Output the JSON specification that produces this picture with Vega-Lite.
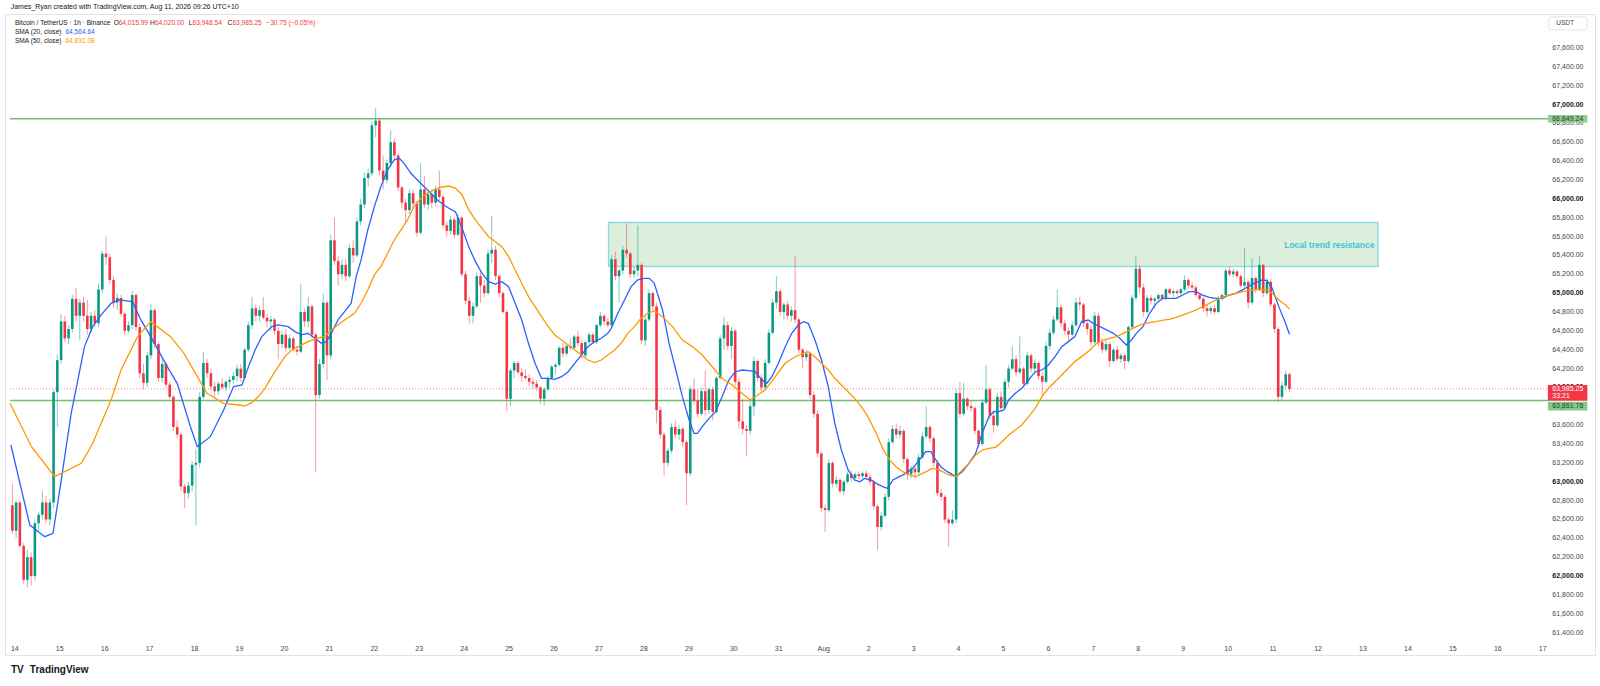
{
  "$schema": "https://vega.github.io/schema/vega-lite/v6.json",
  "description": "Bitcoin / TetherUS 1h candles with SMA 20 and SMA 50, support and resistance levels",
  "width": 1590,
  "height": 641,
  "autosize": {"type": "none"},
  "padding": {"left": 5, "top": 14, "right": 5, "bottom": 31},
  "background": "#ffffff",
  "config": {
    "view": {"stroke": "#e0e3eb", "strokeWidth": 1},
    "font": "Liberation Sans",
    "axis": {"labelOverlap": false, "labelSeparation": 0},
    "axisY": {"disable": true}
  },
  "data": {"values": [{}]},
  "datasets": {
    "candles": [
      {"t":-1,"o":62750,"h":62980,"l":62450,"c":62480},
      {"t":1,"o":62480,"h":62800,"l":62400,"c":62780},
      {"t":3,"o":62780,"h":62800,"l":62300,"c":62320},
      {"t":5,"o":62320,"h":62350,"l":61920,"c":61960},
      {"t":7,"o":61960,"h":62280,"l":61880,"c":62200},
      {"t":9,"o":62200,"h":62250,"l":61900,"c":62000},
      {"t":11,"o":62000,"h":62600,"l":61950,"c":62560},
      {"t":13,"o":62560,"h":62680,"l":62480,"c":62650},
      {"t":15,"o":62650,"h":62900,"l":62600,"c":62780},
      {"t":17,"o":62780,"h":62850,"l":62560,"c":62600},
      {"t":19,"o":62600,"h":62820,"l":62540,"c":62780},
      {"t":21,"o":62780,"h":63980,"l":62720,"c":63950},
      {"t":23,"o":63950,"h":64350,"l":63580,"c":64290},
      {"t":25,"o":64290,"h":64780,"l":64250,"c":64700},
      {"t":27,"o":64700,"h":64760,"l":64480,"c":64520},
      {"t":29,"o":64520,"h":64660,"l":64460,"c":64620},
      {"t":31,"o":64620,"h":64980,"l":64580,"c":64940},
      {"t":33,"o":64940,"h":65060,"l":64700,"c":64760},
      {"t":35,"o":64760,"h":64940,"l":64500,"c":64900},
      {"t":37,"o":64900,"h":64960,"l":64700,"c":64760},
      {"t":39,"o":64760,"h":64930,"l":64560,"c":64620},
      {"t":41,"o":64620,"h":64800,"l":64580,"c":64760},
      {"t":43,"o":64760,"h":64820,"l":64640,"c":64680},
      {"t":45,"o":64680,"h":65100,"l":64640,"c":65040},
      {"t":47,"o":65040,"h":65450,"l":65000,"c":65420},
      {"t":49,"o":65420,"h":65600,"l":65300,"c":65380},
      {"t":51,"o":65380,"h":65420,"l":65100,"c":65140},
      {"t":53,"o":65140,"h":65180,"l":64850,"c":64900},
      {"t":55,"o":64900,"h":65000,"l":64820,"c":64950},
      {"t":57,"o":64950,"h":64980,"l":64750,"c":64780},
      {"t":59,"o":64780,"h":64800,"l":64560,"c":64600},
      {"t":61,"o":64600,"h":64700,"l":64580,"c":64660},
      {"t":63,"o":64660,"h":65020,"l":64620,"c":64980},
      {"t":65,"o":64980,"h":65000,"l":64600,"c":64640},
      {"t":67,"o":64640,"h":64680,"l":64100,"c":64150},
      {"t":69,"o":64150,"h":64250,"l":63980,"c":64050},
      {"t":71,"o":64050,"h":64380,"l":64000,"c":64340},
      {"t":73,"o":64340,"h":64890,"l":64300,"c":64820},
      {"t":75,"o":64820,"h":64840,"l":64420,"c":64460},
      {"t":77,"o":64460,"h":64480,"l":64060,"c":64100},
      {"t":79,"o":64100,"h":64300,"l":64050,"c":64250},
      {"t":81,"o":64250,"h":64270,"l":64000,"c":64030},
      {"t":83,"o":64030,"h":64060,"l":63880,"c":63900},
      {"t":85,"o":63900,"h":63920,"l":63540,"c":63580},
      {"t":87,"o":63580,"h":63650,"l":63460,"c":63500},
      {"t":89,"o":63500,"h":63520,"l":62900,"c":62950},
      {"t":91,"o":62950,"h":62980,"l":62720,"c":62880},
      {"t":93,"o":62880,"h":63000,"l":62820,"c":62960},
      {"t":95,"o":62960,"h":63220,"l":62900,"c":63180},
      {"t":97,"o":63180,"h":63350,"l":62540,"c":63200},
      {"t":99,"o":63200,"h":63950,"l":63150,"c":63900},
      {"t":101,"o":63900,"h":64380,"l":63880,"c":64260},
      {"t":103,"o":64260,"h":64300,"l":64100,"c":64150},
      {"t":105,"o":64150,"h":64200,"l":63980,"c":64010},
      {"t":107,"o":64010,"h":64060,"l":63900,"c":63960},
      {"t":109,"o":63960,"h":64060,"l":63920,"c":64040},
      {"t":111,"o":64040,"h":64100,"l":63980,"c":64000},
      {"t":113,"o":64000,"h":64080,"l":63960,"c":64060},
      {"t":115,"o":64060,"h":64120,"l":64000,"c":64080},
      {"t":117,"o":64080,"h":64160,"l":64040,"c":64120},
      {"t":119,"o":64120,"h":64240,"l":64060,"c":64200},
      {"t":121,"o":64200,"h":64250,"l":64060,"c":64100},
      {"t":123,"o":64100,"h":64420,"l":64080,"c":64400},
      {"t":125,"o":64400,"h":64700,"l":64380,"c":64660},
      {"t":127,"o":64660,"h":64960,"l":64620,"c":64840},
      {"t":129,"o":64840,"h":64880,"l":64700,"c":64760},
      {"t":131,"o":64760,"h":64860,"l":64700,"c":64820},
      {"t":133,"o":64820,"h":64960,"l":64720,"c":64740},
      {"t":135,"o":64740,"h":64780,"l":64640,"c":64700},
      {"t":137,"o":64700,"h":64760,"l":64600,"c":64720},
      {"t":139,"o":64720,"h":64740,"l":64560,"c":64600},
      {"t":141,"o":64600,"h":64640,"l":64300,"c":64460},
      {"t":143,"o":64460,"h":64600,"l":64420,"c":64560},
      {"t":145,"o":64560,"h":64620,"l":64380,"c":64420},
      {"t":147,"o":64420,"h":64560,"l":64400,"c":64520},
      {"t":149,"o":64520,"h":64540,"l":64380,"c":64400},
      {"t":151,"o":64400,"h":64440,"l":64340,"c":64380},
      {"t":153,"o":64380,"h":65100,"l":64360,"c":64800},
      {"t":155,"o":64800,"h":64840,"l":64640,"c":64700},
      {"t":157,"o":64700,"h":64960,"l":64640,"c":64860},
      {"t":159,"o":64860,"h":64880,"l":64520,"c":64560},
      {"t":161,"o":64560,"h":64580,"l":63100,"c":63920},
      {"t":163,"o":63920,"h":64300,"l":63880,"c":64250},
      {"t":165,"o":64250,"h":65000,"l":64200,"c":64900},
      {"t":167,"o":64900,"h":64920,"l":64080,"c":64340},
      {"t":169,"o":64340,"h":65620,"l":64300,"c":65560},
      {"t":171,"o":65560,"h":65800,"l":65300,"c":65340},
      {"t":173,"o":65340,"h":65400,"l":65080,"c":65200},
      {"t":175,"o":65200,"h":65360,"l":65150,"c":65300},
      {"t":177,"o":65300,"h":65360,"l":65130,"c":65180},
      {"t":179,"o":65180,"h":65520,"l":65160,"c":65480},
      {"t":181,"o":65480,"h":65560,"l":65320,"c":65400},
      {"t":183,"o":65400,"h":65800,"l":65380,"c":65760},
      {"t":185,"o":65760,"h":66000,"l":65720,"c":65940},
      {"t":187,"o":65940,"h":66280,"l":65900,"c":66220},
      {"t":189,"o":66220,"h":66320,"l":66130,"c":66270},
      {"t":191,"o":66270,"h":66820,"l":66240,"c":66780},
      {"t":193,"o":66780,"h":66960,"l":66650,"c":66830},
      {"t":195,"o":66830,"h":66860,"l":66250,"c":66300},
      {"t":197,"o":66300,"h":66460,"l":66100,"c":66200},
      {"t":199,"o":66200,"h":66420,"l":66160,"c":66380},
      {"t":201,"o":66380,"h":66730,"l":66340,"c":66600},
      {"t":203,"o":66600,"h":66640,"l":66420,"c":66460},
      {"t":205,"o":66460,"h":66480,"l":66080,"c":66120},
      {"t":207,"o":66120,"h":66140,"l":65900,"c":65960},
      {"t":209,"o":65960,"h":66000,"l":65740,"c":65880},
      {"t":211,"o":65880,"h":66100,"l":65840,"c":66060},
      {"t":213,"o":66060,"h":66100,"l":65900,"c":65950},
      {"t":215,"o":65950,"h":65980,"l":65600,"c":65640},
      {"t":217,"o":65640,"h":66380,"l":65620,"c":66100},
      {"t":219,"o":66100,"h":66240,"l":65900,"c":65940},
      {"t":221,"o":65940,"h":66080,"l":65880,"c":66050},
      {"t":223,"o":66050,"h":66100,"l":65900,"c":65960},
      {"t":225,"o":65960,"h":66140,"l":65920,"c":66100},
      {"t":227,"o":66100,"h":66300,"l":65980,"c":66020},
      {"t":229,"o":66020,"h":66040,"l":65680,"c":65720},
      {"t":231,"o":65720,"h":65760,"l":65600,"c":65660},
      {"t":233,"o":65660,"h":65820,"l":65620,"c":65780},
      {"t":235,"o":65780,"h":65800,"l":65580,"c":65620},
      {"t":237,"o":65620,"h":65840,"l":65600,"c":65800},
      {"t":239,"o":65800,"h":65820,"l":65180,"c":65200},
      {"t":241,"o":65200,"h":65240,"l":64880,"c":64920},
      {"t":243,"o":64920,"h":64960,"l":64680,"c":64760},
      {"t":245,"o":64760,"h":64900,"l":64680,"c":64860},
      {"t":247,"o":64860,"h":65220,"l":64840,"c":65180},
      {"t":249,"o":65180,"h":65220,"l":64900,"c":65080},
      {"t":251,"o":65080,"h":65140,"l":64960,"c":65000},
      {"t":253,"o":65000,"h":65460,"l":64980,"c":65420},
      {"t":255,"o":65420,"h":65820,"l":65320,"c":65460},
      {"t":257,"o":65460,"h":65500,"l":65140,"c":65180},
      {"t":259,"o":65180,"h":65200,"l":64960,"c":65000},
      {"t":261,"o":65000,"h":65020,"l":64780,"c":64800},
      {"t":263,"o":64800,"h":64820,"l":63750,"c":63880},
      {"t":265,"o":63880,"h":64200,"l":63800,"c":64180},
      {"t":267,"o":64180,"h":64280,"l":64100,"c":64260},
      {"t":269,"o":64260,"h":64280,"l":64140,"c":64160},
      {"t":271,"o":64160,"h":64200,"l":64060,"c":64120},
      {"t":273,"o":64120,"h":64190,"l":64080,"c":64100},
      {"t":275,"o":64100,"h":64140,"l":64020,"c":64060},
      {"t":277,"o":64060,"h":64100,"l":63980,"c":64040},
      {"t":279,"o":64040,"h":64080,"l":63960,"c":64000},
      {"t":281,"o":64000,"h":64020,"l":63820,"c":63880},
      {"t":283,"o":63880,"h":64000,"l":63810,"c":63980},
      {"t":285,"o":63980,"h":64120,"l":63960,"c":64100},
      {"t":287,"o":64100,"h":64240,"l":64080,"c":64220},
      {"t":289,"o":64220,"h":64260,"l":64140,"c":64240},
      {"t":291,"o":64240,"h":64440,"l":64220,"c":64420},
      {"t":293,"o":64420,"h":64470,"l":64320,"c":64360},
      {"t":295,"o":64360,"h":64460,"l":64330,"c":64440},
      {"t":297,"o":64440,"h":64520,"l":64400,"c":64420},
      {"t":299,"o":64420,"h":64560,"l":64400,"c":64540},
      {"t":301,"o":64540,"h":64600,"l":64440,"c":64470},
      {"t":303,"o":64470,"h":64500,"l":64300,"c":64340},
      {"t":305,"o":64340,"h":64500,"l":64320,"c":64480},
      {"t":307,"o":64480,"h":64580,"l":64460,"c":64560},
      {"t":309,"o":64560,"h":64580,"l":64460,"c":64480},
      {"t":311,"o":64480,"h":64680,"l":64460,"c":64660},
      {"t":313,"o":64660,"h":64800,"l":64640,"c":64760},
      {"t":315,"o":64760,"h":64780,"l":64660,"c":64700},
      {"t":317,"o":64700,"h":64740,"l":64640,"c":64660},
      {"t":319,"o":64660,"h":65400,"l":64640,"c":65360},
      {"t":321,"o":65360,"h":65440,"l":65140,"c":65180},
      {"t":323,"o":65180,"h":65260,"l":64900,"c":65240},
      {"t":325,"o":65240,"h":65500,"l":65200,"c":65460},
      {"t":327,"o":65460,"h":65740,"l":65380,"c":65420},
      {"t":329,"o":65420,"h":65440,"l":65160,"c":65200},
      {"t":331,"o":65200,"h":65280,"l":65160,"c":65240},
      {"t":333,"o":65240,"h":65720,"l":65180,"c":65300},
      {"t":335,"o":65300,"h":65320,"l":64460,"c":64500},
      {"t":337,"o":64500,"h":64760,"l":64440,"c":64720},
      {"t":339,"o":64720,"h":65040,"l":64700,"c":65000},
      {"t":341,"o":65000,"h":65020,"l":64820,"c":64860},
      {"t":343,"o":64860,"h":64900,"l":63620,"c":63760},
      {"t":345,"o":63760,"h":63800,"l":63460,"c":63500},
      {"t":347,"o":63500,"h":63520,"l":63070,"c":63200},
      {"t":349,"o":63200,"h":63360,"l":63160,"c":63330},
      {"t":351,"o":63330,"h":63620,"l":63300,"c":63580},
      {"t":353,"o":63580,"h":63650,"l":63460,"c":63500},
      {"t":355,"o":63500,"h":63600,"l":63440,"c":63560},
      {"t":357,"o":63560,"h":63580,"l":63370,"c":63420},
      {"t":359,"o":63420,"h":63440,"l":62750,"c":63090},
      {"t":361,"o":63090,"h":64020,"l":63060,"c":63980},
      {"t":363,"o":63980,"h":64100,"l":63820,"c":63860},
      {"t":365,"o":63860,"h":63980,"l":63680,"c":63720},
      {"t":367,"o":63720,"h":64000,"l":63700,"c":63960},
      {"t":369,"o":63960,"h":64180,"l":63700,"c":63760},
      {"t":371,"o":63760,"h":64000,"l":63720,"c":63980},
      {"t":373,"o":63980,"h":64010,"l":63650,"c":63740},
      {"t":375,"o":63740,"h":64120,"l":63720,"c":64100},
      {"t":377,"o":64100,"h":64560,"l":64080,"c":64520},
      {"t":379,"o":64520,"h":64750,"l":64400,"c":64660},
      {"t":381,"o":64660,"h":64700,"l":64400,"c":64440},
      {"t":383,"o":64440,"h":64640,"l":64300,"c":64600},
      {"t":385,"o":64600,"h":64620,"l":64020,"c":64060},
      {"t":387,"o":64060,"h":64100,"l":63560,"c":63640},
      {"t":389,"o":63640,"h":63880,"l":63500,"c":63560},
      {"t":391,"o":63560,"h":63600,"l":63270,"c":63540},
      {"t":393,"o":63540,"h":63860,"l":63500,"c":63800},
      {"t":395,"o":63800,"h":64330,"l":63700,"c":64280},
      {"t":397,"o":64280,"h":64300,"l":64060,"c":64100},
      {"t":399,"o":64100,"h":64140,"l":63960,"c":64000},
      {"t":401,"o":64000,"h":64300,"l":63980,"c":64260},
      {"t":403,"o":64260,"h":64620,"l":64240,"c":64580},
      {"t":405,"o":64580,"h":64940,"l":64560,"c":64900},
      {"t":407,"o":64900,"h":65180,"l":64840,"c":65020},
      {"t":409,"o":65020,"h":65040,"l":64760,"c":64800},
      {"t":411,"o":64800,"h":64900,"l":64720,"c":64880},
      {"t":413,"o":64880,"h":64920,"l":64720,"c":64760},
      {"t":415,"o":64760,"h":64860,"l":64700,"c":64820},
      {"t":417,"o":64820,"h":65400,"l":64680,"c":64720},
      {"t":419,"o":64720,"h":64740,"l":64360,"c":64400},
      {"t":421,"o":64400,"h":64420,"l":64200,"c":64320},
      {"t":423,"o":64320,"h":64400,"l":64280,"c":64360},
      {"t":425,"o":64360,"h":64380,"l":63880,"c":63920},
      {"t":427,"o":63920,"h":63960,"l":63680,"c":63720},
      {"t":429,"o":63720,"h":63760,"l":63260,"c":63300},
      {"t":431,"o":63300,"h":63320,"l":62680,"c":62720},
      {"t":433,"o":62720,"h":62760,"l":62470,"c":62700},
      {"t":435,"o":62700,"h":63240,"l":62680,"c":63200},
      {"t":437,"o":63200,"h":63220,"l":62940,"c":62980},
      {"t":439,"o":62980,"h":63060,"l":62940,"c":63020},
      {"t":441,"o":63020,"h":63040,"l":62880,"c":62900},
      {"t":443,"o":62900,"h":63020,"l":62860,"c":63000},
      {"t":445,"o":63000,"h":63110,"l":62980,"c":63080},
      {"t":447,"o":63080,"h":63120,"l":63000,"c":63040},
      {"t":449,"o":63040,"h":63100,"l":63010,"c":63080},
      {"t":451,"o":63080,"h":63110,"l":63030,"c":63060},
      {"t":453,"o":63060,"h":63110,"l":63040,"c":63090},
      {"t":455,"o":63090,"h":63120,"l":63020,"c":63050},
      {"t":457,"o":63050,"h":63080,"l":62960,"c":63000},
      {"t":459,"o":63000,"h":63020,"l":62700,"c":62740},
      {"t":461,"o":62740,"h":62760,"l":62280,"c":62520},
      {"t":463,"o":62520,"h":62680,"l":62480,"c":62640},
      {"t":465,"o":62640,"h":62880,"l":62620,"c":62840},
      {"t":467,"o":62840,"h":63460,"l":62800,"c":63420},
      {"t":469,"o":63420,"h":63600,"l":63400,"c":63560},
      {"t":471,"o":63560,"h":63620,"l":63460,"c":63500},
      {"t":473,"o":63500,"h":63600,"l":63460,"c":63540},
      {"t":475,"o":63540,"h":63560,"l":63200,"c":63240},
      {"t":477,"o":63240,"h":63260,"l":63020,"c":63080},
      {"t":479,"o":63080,"h":63170,"l":63040,"c":63140},
      {"t":481,"o":63140,"h":63160,"l":63040,"c":63100},
      {"t":483,"o":63100,"h":63300,"l":63080,"c":63260},
      {"t":485,"o":63260,"h":63520,"l":63240,"c":63480},
      {"t":487,"o":63480,"h":63800,"l":63460,"c":63580},
      {"t":489,"o":63580,"h":63600,"l":63420,"c":63460},
      {"t":491,"o":63460,"h":63480,"l":63160,"c":63200},
      {"t":493,"o":63200,"h":63220,"l":62850,"c":62880},
      {"t":495,"o":62880,"h":62920,"l":62800,"c":62840},
      {"t":497,"o":62840,"h":62860,"l":62560,"c":62600},
      {"t":499,"o":62600,"h":62620,"l":62310,"c":62560},
      {"t":501,"o":62560,"h":62700,"l":62540,"c":62600},
      {"t":503,"o":62600,"h":63980,"l":62560,"c":63940},
      {"t":505,"o":63940,"h":64060,"l":63680,"c":63720},
      {"t":507,"o":63720,"h":64050,"l":63700,"c":63880},
      {"t":509,"o":63880,"h":63900,"l":63760,"c":63800},
      {"t":511,"o":63800,"h":63860,"l":63740,"c":63780},
      {"t":513,"o":63780,"h":63800,"l":63500,"c":63540},
      {"t":515,"o":63540,"h":63560,"l":63360,"c":63400},
      {"t":517,"o":63400,"h":63880,"l":63380,"c":63840},
      {"t":519,"o":63840,"h":64240,"l":63820,"c":63980},
      {"t":521,"o":63980,"h":64000,"l":63660,"c":63700},
      {"t":523,"o":63700,"h":63760,"l":63520,"c":63600},
      {"t":525,"o":63600,"h":63940,"l":63580,"c":63900},
      {"t":527,"o":63900,"h":63960,"l":63740,"c":63780},
      {"t":529,"o":63780,"h":64090,"l":63760,"c":64060},
      {"t":531,"o":64060,"h":64240,"l":64000,"c":64200},
      {"t":533,"o":64200,"h":64440,"l":64180,"c":64300},
      {"t":535,"o":64300,"h":64340,"l":64120,"c":64160},
      {"t":537,"o":64160,"h":64540,"l":64140,"c":64200},
      {"t":539,"o":64200,"h":64220,"l":64000,"c":64040},
      {"t":541,"o":64040,"h":64380,"l":64020,"c":64340},
      {"t":543,"o":64340,"h":64360,"l":64160,"c":64200},
      {"t":545,"o":64200,"h":64300,"l":64140,"c":64260},
      {"t":547,"o":64260,"h":64280,"l":64080,"c":64120},
      {"t":549,"o":64120,"h":64160,"l":63900,"c":64060},
      {"t":551,"o":64060,"h":64480,"l":64040,"c":64440},
      {"t":553,"o":64440,"h":64620,"l":64400,"c":64580},
      {"t":555,"o":64580,"h":64760,"l":64560,"c":64720},
      {"t":557,"o":64720,"h":65040,"l":64700,"c":64850},
      {"t":559,"o":64850,"h":64880,"l":64640,"c":64680},
      {"t":561,"o":64680,"h":64720,"l":64560,"c":64600},
      {"t":563,"o":64600,"h":64640,"l":64500,"c":64560},
      {"t":565,"o":64560,"h":64700,"l":64540,"c":64660},
      {"t":567,"o":64660,"h":64950,"l":64640,"c":64900},
      {"t":569,"o":64900,"h":64960,"l":64820,"c":64880},
      {"t":571,"o":64880,"h":64900,"l":64640,"c":64680},
      {"t":573,"o":64680,"h":64700,"l":64560,"c":64620},
      {"t":575,"o":64620,"h":64660,"l":64440,"c":64480},
      {"t":577,"o":64480,"h":64800,"l":64460,"c":64760},
      {"t":579,"o":64760,"h":64790,"l":64440,"c":64480},
      {"t":581,"o":64480,"h":64520,"l":64360,"c":64400},
      {"t":583,"o":64400,"h":64500,"l":64380,"c":64460},
      {"t":585,"o":64460,"h":64480,"l":64220,"c":64280},
      {"t":587,"o":64280,"h":64420,"l":64260,"c":64400},
      {"t":589,"o":64400,"h":64440,"l":64280,"c":64300},
      {"t":591,"o":64300,"h":64360,"l":64260,"c":64340},
      {"t":593,"o":64340,"h":64360,"l":64190,"c":64280},
      {"t":595,"o":64280,"h":64660,"l":64260,"c":64640},
      {"t":597,"o":64640,"h":64980,"l":64620,"c":64950},
      {"t":599,"o":64950,"h":65390,"l":64920,"c":65260},
      {"t":601,"o":65260,"h":65300,"l":65000,"c":65060},
      {"t":603,"o":65060,"h":65100,"l":64750,"c":64800},
      {"t":605,"o":64800,"h":64980,"l":64780,"c":64950},
      {"t":607,"o":64950,"h":64980,"l":64880,"c":64920},
      {"t":609,"o":64920,"h":64960,"l":64840,"c":64940},
      {"t":611,"o":64940,"h":65000,"l":64900,"c":64980},
      {"t":613,"o":64980,"h":65000,"l":64920,"c":64940},
      {"t":615,"o":64940,"h":65060,"l":64920,"c":65040},
      {"t":617,"o":65040,"h":65060,"l":64980,"c":65000},
      {"t":619,"o":65000,"h":65040,"l":64960,"c":65020},
      {"t":621,"o":65020,"h":65040,"l":64980,"c":65000},
      {"t":623,"o":65000,"h":65060,"l":64980,"c":65040},
      {"t":625,"o":65040,"h":65190,"l":65020,"c":65140},
      {"t":627,"o":65140,"h":65160,"l":65040,"c":65080},
      {"t":629,"o":65080,"h":65120,"l":65030,"c":65060},
      {"t":631,"o":65060,"h":65080,"l":64960,"c":64980},
      {"t":633,"o":64980,"h":65000,"l":64920,"c":64940},
      {"t":635,"o":64940,"h":64960,"l":64800,"c":64840},
      {"t":637,"o":64840,"h":64880,"l":64750,"c":64810},
      {"t":639,"o":64810,"h":64860,"l":64780,"c":64840},
      {"t":641,"o":64840,"h":64870,"l":64780,"c":64800},
      {"t":643,"o":64800,"h":64970,"l":64790,"c":64940},
      {"t":645,"o":64940,"h":65000,"l":64920,"c":64980},
      {"t":647,"o":64980,"h":65260,"l":64960,"c":65240},
      {"t":649,"o":65240,"h":65280,"l":65180,"c":65200},
      {"t":651,"o":65200,"h":65260,"l":65170,"c":65230},
      {"t":653,"o":65230,"h":65250,"l":65160,"c":65180},
      {"t":655,"o":65180,"h":65200,"l":65060,"c":65080},
      {"t":657,"o":65080,"h":65480,"l":65040,"c":65120},
      {"t":659,"o":65120,"h":65140,"l":64840,"c":64900},
      {"t":661,"o":64900,"h":65370,"l":64880,"c":65160},
      {"t":663,"o":65160,"h":65180,"l":65000,"c":65040},
      {"t":665,"o":65040,"h":65390,"l":65020,"c":65300},
      {"t":667,"o":65300,"h":65310,"l":64960,"c":65000},
      {"t":669,"o":65000,"h":65160,"l":64980,"c":65120},
      {"t":671,"o":65120,"h":65150,"l":64850,"c":64880},
      {"t":673,"o":64880,"h":64900,"l":64580,"c":64620},
      {"t":675,"o":64620,"h":64640,"l":63840,"c":63900},
      {"t":677,"o":63900,"h":64060,"l":63860,"c":64020},
      {"t":679,"o":64020,"h":64180,"l":63980,"c":64140},
      {"t":681,"o":64140,"h":64160,"l":63948,"c":63985}
    ],
    "sma20": [
      {"t":-1.8,"v":63390},{"t":8.3,"v":62541},{"t":16.3,"v":62418},{"t":20.7,"v":62453},{"t":25.1,"v":63019},
      {"t":30.4,"v":63726},{"t":37.5,"v":64433},{"t":41.9,"v":64645},{"t":46.4,"v":64769},{"t":51.7,"v":64892},
      {"t":56.1,"v":64928},{"t":63.2,"v":64910},{"t":67.6,"v":64716},{"t":72.9,"v":64539},{"t":81.7,"v":64221},
      {"t":87.0,"v":64044},{"t":94.1,"v":63584},{"t":97.7,"v":63372},{"t":104.7,"v":63478},{"t":111.8,"v":63761},
      {"t":117.1,"v":64009},{"t":121.6,"v":64027},{"t":125.1,"v":64221},{"t":128.6,"v":64398},{"t":132.2,"v":64539},
      {"t":137.5,"v":64645},{"t":141.0,"v":64663},{"t":146.3,"v":64645},{"t":149.9,"v":64592},{"t":153.4,"v":64557},
      {"t":156.9,"v":64574},{"t":160.5,"v":64522},{"t":164.0,"v":64468},{"t":166.7,"v":64486},{"t":169.3,"v":64574},
      {"t":172.9,"v":64716},{"t":176.4,"v":64804},{"t":179.9,"v":64893},{"t":182.6,"v":65175},{"t":185.2,"v":65352},
      {"t":188.8,"v":65670},{"t":192.3,"v":65918},{"t":195.8,"v":66130},{"t":199.4,"v":66307},{"t":202.9,"v":66413},
      {"t":205.6,"v":66430},{"t":208.2,"v":66377},{"t":211.8,"v":66271},{"t":215.3,"v":66200},{"t":218.8,"v":66130},
      {"t":222.4,"v":66059},{"t":225.9,"v":65988},{"t":229.5,"v":65935},{"t":232.1,"v":65900},{"t":235.6,"v":65864},
      {"t":239.2,"v":65687},{"t":242.7,"v":65493},{"t":246.3,"v":65334},{"t":249.8,"v":65210},{"t":253.3,"v":65122},
      {"t":256.9,"v":65097},{"t":260.4,"v":65122},{"t":264.0,"v":65069},{"t":267.5,"v":64892},{"t":271.0,"v":64715},
      {"t":274.6,"v":64468},{"t":278.1,"v":64256},{"t":281.6,"v":64097},{"t":285.2,"v":64097},{"t":288.7,"v":64086},
      {"t":292.3,"v":64114},{"t":295.8,"v":64167},{"t":299.3,"v":64256},{"t":302.9,"v":64344},{"t":306.4,"v":64433},
      {"t":309.9,"v":64486},{"t":313.5,"v":64521},{"t":317.0,"v":64574},{"t":318.8,"v":64627},{"t":322.3,"v":64786},
      {"t":325.9,"v":64928},{"t":329.4,"v":65069},{"t":332.9,"v":65140},{"t":336.5,"v":65157},{"t":339.1,"v":65157},
      {"t":341.8,"v":65104},{"t":346.2,"v":64821},{"t":349.7,"v":64468},{"t":353.3,"v":64185},{"t":356.8,"v":63902},
      {"t":360.4,"v":63655},{"t":363.0,"v":63513},{"t":364.8,"v":63513},{"t":367.4,"v":63584},{"t":371.0,"v":63672},
      {"t":374.5,"v":63743},{"t":378.0,"v":63902},{"t":381.6,"v":64079},{"t":385.1,"v":64167},{"t":388.7,"v":64185},
      {"t":392.2,"v":64178},{"t":395.7,"v":64167},{"t":399.3,"v":64079},{"t":401.9,"v":64044},{"t":404.6,"v":64114},
      {"t":408.1,"v":64256},{"t":411.7,"v":64432},{"t":415.2,"v":64574},{"t":418.7,"v":64662},{"t":421.4,"v":64698},
      {"t":424.0,"v":64680},{"t":427.6,"v":64503},{"t":431.1,"v":64291},{"t":434.7,"v":64009},{"t":438.2,"v":63620},
      {"t":441.7,"v":63337},{"t":445.3,"v":63125},{"t":448.8,"v":63018},{"t":451.5,"v":63001},{"t":454.1,"v":63036},
      {"t":457.7,"v":63018},{"t":460.3,"v":62983},{"t":463.8,"v":62948},{"t":466.5,"v":62930},{"t":469.2,"v":63019},
      {"t":472.7,"v":63054},{"t":476.2,"v":63089},{"t":479.8,"v":63142},{"t":483.3,"v":63231},{"t":486.8,"v":63319},
      {"t":489.5,"v":63319},{"t":492.2,"v":63231},{"t":494.8,"v":63160},{"t":498.3,"v":63107},{"t":502.8,"v":63054},
      {"t":506.3,"v":63107},{"t":509.8,"v":63195},{"t":513.4,"v":63301},{"t":516.9,"v":63514},{"t":520.5,"v":63690},
      {"t":523.1,"v":63743},{"t":525.8,"v":63743},{"t":528.4,"v":63761},{"t":531.1,"v":63867},{"t":534.6,"v":63938},
      {"t":538.1,"v":63991},{"t":541.7,"v":64079},{"t":545.2,"v":64167},{"t":548.8,"v":64185},{"t":552.3,"v":64238},
      {"t":555.8,"v":64327},{"t":559.4,"v":64433},{"t":562.9,"v":64486},{"t":566.4,"v":64539},{"t":570.0,"v":64698},
      {"t":573.5,"v":64715},{"t":576.2,"v":64680},{"t":579.8,"v":64645},{"t":583.3,"v":64610},{"t":586.9,"v":64574},
      {"t":590.4,"v":64521},{"t":593.9,"v":64450},{"t":596.6,"v":64503},{"t":599.2,"v":64574},{"t":602.8,"v":64645},
      {"t":606.3,"v":64786},{"t":609.9,"v":64892},{"t":613.4,"v":64945},{"t":616.9,"v":64945},{"t":620.5,"v":64945},
      {"t":624.0,"v":64980},{"t":627.5,"v":65016},{"t":631.1,"v":65016},{"t":634.6,"v":64980},{"t":638.2,"v":64956},
      {"t":641.7,"v":64945},{"t":645.2,"v":64945},{"t":648.8,"v":64980},{"t":652.3,"v":64998},{"t":655.9,"v":65034},
      {"t":659.4,"v":65076},{"t":662.9,"v":65111},{"t":666.5,"v":65140},{"t":669.1,"v":65132},{"t":671.8,"v":65051},
      {"t":675.3,"v":64857},{"t":678.9,"v":64680},{"t":681.0,"v":64565}
    ],
    "sma50": [
      {"t":-2.3,"v":63832},{"t":9.2,"v":63372},{"t":21.6,"v":63054},{"t":35.8,"v":63196},{"t":41.9,"v":63408},
      {"t":46.4,"v":63620},{"t":51.7,"v":63867},{"t":57.0,"v":64185},{"t":65.8,"v":64539},{"t":72.9,"v":64698},
      {"t":83.5,"v":64539},{"t":90.6,"v":64362},{"t":96.8,"v":64150},{"t":102.9,"v":63938},{"t":111.8,"v":63832},
      {"t":119.8,"v":63814},{"t":123.3,"v":63804},{"t":126.9,"v":63839},{"t":130.4,"v":63903},{"t":133.9,"v":63991},
      {"t":137.5,"v":64115},{"t":141.0,"v":64221},{"t":144.5,"v":64327},{"t":148.1,"v":64398},{"t":151.6,"v":64433},
      {"t":156.9,"v":64486},{"t":162.2,"v":64522},{"t":165.8,"v":64539},{"t":169.3,"v":64610},{"t":172.9,"v":64663},
      {"t":176.4,"v":64716},{"t":181.7,"v":64787},{"t":185.2,"v":64893},{"t":188.8,"v":65034},{"t":192.3,"v":65193},
      {"t":195.8,"v":65282},{"t":199.4,"v":65423},{"t":202.9,"v":65564},{"t":206.5,"v":65670},{"t":210.0,"v":65776},
      {"t":213.5,"v":65918},{"t":217.1,"v":66006},{"t":220.6,"v":66059},{"t":224.1,"v":66095},{"t":227.7,"v":66123},
      {"t":232.1,"v":66136},{"t":235.6,"v":66112},{"t":239.2,"v":66041},{"t":242.7,"v":65882},{"t":246.3,"v":65776},
      {"t":249.8,"v":65687},{"t":253.3,"v":65599},{"t":256.9,"v":65546},{"t":260.4,"v":65493},{"t":264.0,"v":65387},
      {"t":267.5,"v":65246},{"t":271.0,"v":65104},{"t":274.6,"v":64963},{"t":278.1,"v":64857},{"t":281.6,"v":64751},
      {"t":285.2,"v":64645},{"t":288.7,"v":64556},{"t":292.3,"v":64503},{"t":295.8,"v":64450},{"t":299.3,"v":64397},
      {"t":302.9,"v":64344},{"t":306.4,"v":64291},{"t":309.9,"v":64263},{"t":313.5,"v":64291},{"t":317.0,"v":64344},
      {"t":320.6,"v":64397},{"t":324.1,"v":64468},{"t":327.6,"v":64574},{"t":331.2,"v":64645},{"t":334.7,"v":64733},
      {"t":338.2,"v":64786},{"t":341.8,"v":64814},{"t":346.2,"v":64751},{"t":351.5,"v":64645},{"t":356.8,"v":64503},
      {"t":362.1,"v":64433},{"t":367.4,"v":64344},{"t":372.7,"v":64220},{"t":378.0,"v":64097},{"t":383.4,"v":64026},
      {"t":388.7,"v":63937},{"t":393.1,"v":63867},{"t":395.7,"v":63902},{"t":401.0,"v":63973},{"t":406.4,"v":64115},
      {"t":411.7,"v":64256},{"t":417.0,"v":64326},{"t":421.4,"v":64362},{"t":424.0,"v":64380},{"t":427.6,"v":64326},
      {"t":431.1,"v":64256},{"t":434.7,"v":64185},{"t":438.2,"v":64097},{"t":441.7,"v":64026},{"t":445.3,"v":63955},
      {"t":448.8,"v":63884},{"t":452.3,"v":63796},{"t":455.9,"v":63690},{"t":460.3,"v":63514},{"t":463.8,"v":63354},
      {"t":467.4,"v":63231},{"t":470.9,"v":63160},{"t":474.5,"v":63107},{"t":478.0,"v":63072},{"t":481.5,"v":63054},
      {"t":485.1,"v":63089},{"t":490.4,"v":63142},{"t":493.9,"v":63125},{"t":499.2,"v":63072},{"t":502.8,"v":63054},
      {"t":506.3,"v":63125},{"t":509.8,"v":63195},{"t":513.4,"v":63284},{"t":516.9,"v":63337},{"t":520.5,"v":63354},
      {"t":524.0,"v":63365},{"t":527.5,"v":63425},{"t":531.1,"v":63496},{"t":534.6,"v":63549},{"t":538.1,"v":63602},
      {"t":541.7,"v":63690},{"t":545.2,"v":63779},{"t":548.8,"v":63902},{"t":552.3,"v":63991},{"t":555.8,"v":64061},
      {"t":559.4,"v":64132},{"t":562.9,"v":64203},{"t":566.4,"v":64274},{"t":570.0,"v":64327},{"t":574.5,"v":64397},
      {"t":578.0,"v":64468},{"t":581.6,"v":64503},{"t":585.1,"v":64521},{"t":588.6,"v":64539},{"t":592.2,"v":64574},
      {"t":595.7,"v":64610},{"t":599.2,"v":64645},{"t":602.8,"v":64673},{"t":606.3,"v":64687},{"t":609.9,"v":64698},
      {"t":613.4,"v":64715},{"t":616.9,"v":64722},{"t":620.5,"v":64744},{"t":624.0,"v":64768},{"t":627.5,"v":64793},
      {"t":631.1,"v":64821},{"t":634.6,"v":64857},{"t":638.2,"v":64892},{"t":641.7,"v":64927},{"t":645.2,"v":64956},
      {"t":648.8,"v":64980},{"t":652.3,"v":64998},{"t":655.9,"v":65016},{"t":659.4,"v":65026},{"t":662.9,"v":65034},
      {"t":666.5,"v":65041},{"t":669.1,"v":65034},{"t":671.8,"v":64998},{"t":675.3,"v":64927},{"t":678.9,"v":64874},
      {"t":681.0,"v":64831}
    ],
    "minorTicks": [
      {"p":61400},{"p":61600},{"p":61800},{"p":62200},{"p":62400},{"p":62600},{"p":62800},
      {"p":63200},{"p":63400},{"p":63600},{"p":63800},{"p":64200},{"p":64400},{"p":64600},{"p":64800},
      {"p":65200},{"p":65400},{"p":65600},{"p":65800},{"p":66200},{"p":66400},{"p":66600},{"p":66800},
      {"p":67200},{"p":67400},{"p":67600}
    ],
    "majorTicks": [{"p":62000},{"p":63000},{"p":64000},{"p":65000},{"p":66000},{"p":67000}]
  },
  "layer": [
    {
      "data": {"values": [{"start": 317.4, "end": 728.3, "low": 65283, "high": 65748}]},
      "mark": {"type": "rect", "fill": "#dcefdc", "stroke": "#8fdbe6", "strokeWidth": 1.5},
      "encoding": {
        "x": {
          "field": "start", "type": "quantitative", "title": null,
          "scale": {"domain": [-2.28, 841.5], "nice": false, "zero": false},
          "axis": {
            "orient": "bottom", "offset": -7, "title": null, "grid": false, "domain": false, "ticks": false,
            "values": [0,24,48,72,96,120,144,168,192,216,240,264,288,312,336,360,384,408,432,456,480,504,528,552,576,600,624,648,672,696,720,744,768,792,816],
            "labelExpr": "datum.value / 24 < 18 ? '' + (datum.value / 24 + 14) : (datum.value / 24 == 18 ? 'Aug' : '' + (datum.value / 24 - 17))",
            "labelBaseline": "middle", "labelPadding": 0, "labelFontSize": 7, "labelColor": "#434651",
            "labelFont": "Liberation Sans", "labelOverlap": false, "labelFlush": false
          }
        },
        "x2": {"field": "end"},
        "y": {
          "field": "low", "type": "quantitative", "title": null,
          "scale": {"domain": [61163, 67960], "nice": false, "zero": false}
        },
        "y2": {"field": "high"}
      }
    },
    {
      "data": {"name": "minorTicks"},
      "mark": {"type": "text", "align": "left", "baseline": "middle", "fontSize": 7, "color": "#434651", "font": "Liberation Sans"},
      "encoding": {
        "y": {"field": "p", "type": "quantitative", "title": null},
        "x": {"datum": 821.4, "type": "quantitative"},
        "text": {"field": "p", "type": "quantitative", "format": ",.2f"}
      }
    },
    {
      "data": {"name": "majorTicks"},
      "mark": {"type": "text", "align": "left", "baseline": "middle", "fontSize": 7, "fontWeight": "bold", "color": "#131722", "font": "Liberation Sans"},
      "encoding": {
        "y": {"field": "p", "type": "quantitative", "title": null},
        "x": {"datum": 821.4, "type": "quantitative"},
        "text": {"field": "p", "type": "quantitative", "format": ",.2f"}
      }
    },
    {
      "data": {"values": [{"level": 66849.24}, {"level": 63861.76}]},
      "mark": {"type": "rule", "color": "#4caf50", "strokeWidth": 1.5, "opacity": 0.8},
      "encoding": {
        "y": {"field": "level", "type": "quantitative", "title": null},
        "x": {"datum": -2.28, "type": "quantitative"},
        "x2": {"datum": 819.2}
      }
    },
    {
      "mark": {"type": "rule", "color": "#f23645", "strokeWidth": 1, "strokeDash": [1, 2], "opacity": 0.6},
      "encoding": {
        "y": {"datum": 63985.25, "type": "quantitative"},
        "x": {"datum": -2.28, "type": "quantitative"},
        "x2": {"datum": 819.2}
      }
    },
    {
      "data": {"name": "candles"},
      "encoding": {
        "x": {"field": "t", "type": "quantitative", "title": null},
        "color": {"condition": {"test": "datum.c >= datum.o", "value": "#089981"}, "value": "#f23645"}
      },
      "layer": [
        {
          "mark": {"type": "rule", "strokeWidth": 1, "opacity": 0.5},
          "encoding": {"y": {"field": "l", "type": "quantitative", "title": null}, "y2": {"field": "h"}}
        },
        {
          "mark": {"type": "bar", "width": 2.6},
          "encoding": {"y": {"field": "o", "type": "quantitative", "title": null}, "y2": {"field": "c"}}
        }
      ]
    },
    {
      "data": {"name": "sma20"},
      "mark": {"type": "line", "color": "#2962ff", "strokeWidth": 1.3},
      "encoding": {
        "x": {"field": "t", "type": "quantitative", "title": null},
        "y": {"field": "v", "type": "quantitative", "title": null}
      }
    },
    {
      "data": {"name": "sma50"},
      "mark": {"type": "line", "color": "#ff9800", "strokeWidth": 1.3},
      "encoding": {
        "x": {"field": "t", "type": "quantitative", "title": null},
        "y": {"field": "v", "type": "quantitative", "title": null}
      }
    },
    {
      "mark": {"type": "text", "align": "right", "baseline": "middle", "fontSize": 8.5, "fontWeight": "bold", "color": "#3ec6d6", "font": "Liberation Sans"},
      "encoding": {
        "x": {"datum": 726.4, "type": "quantitative"},
        "y": {"datum": 65515, "type": "quantitative"},
        "text": {"value": "Local trend resistance"}
      }
    },
    {
      "mark": {"type": "rect", "fill": "#86c98a", "opacity": 0.9},
      "encoding": {
        "x": {"datum": 819.0, "type": "quantitative"}, "x2": {"datum": 840.1},
        "y": {"datum": 66809, "type": "quantitative"}, "y2": {"datum": 66889}
      }
    },
    {
      "mark": {"type": "rect", "fill": "#f23645"},
      "encoding": {
        "x": {"datum": 819.0, "type": "quantitative"}, "x2": {"datum": 840.1},
        "y": {"datum": 63860, "type": "quantitative"}, "y2": {"datum": 64026}
      }
    },
    {
      "mark": {"type": "rect", "fill": "#86c98a"},
      "encoding": {
        "x": {"datum": 819.0, "type": "quantitative"}, "x2": {"datum": 840.1},
        "y": {"datum": 63755, "type": "quantitative"}, "y2": {"datum": 63848}
      }
    },
    {
      "mark": {"type": "text", "align": "center", "baseline": "middle", "fontSize": 7, "color": "#1e4620", "font": "Liberation Sans"},
      "encoding": {
        "x": {"datum": 829.6, "type": "quantitative"},
        "y": {"datum": 66849, "type": "quantitative"},
        "text": {"value": "66,849.24"}
      }
    },
    {
      "mark": {"type": "text", "align": "center", "baseline": "middle", "fontSize": 7, "color": "#ffffff", "font": "Liberation Sans"},
      "encoding": {
        "x": {"datum": 829.6, "type": "quantitative"},
        "y": {"datum": 63984, "type": "quantitative"},
        "text": {"value": "63,985.25"}
      }
    },
    {
      "mark": {"type": "text", "align": "left", "baseline": "middle", "fontSize": 7, "color": "#ffffff", "font": "Liberation Sans"},
      "encoding": {
        "x": {"datum": 821.4, "type": "quantitative"},
        "y": {"datum": 63910, "type": "quantitative"},
        "text": {"value": "33:21"}
      }
    },
    {
      "mark": {"type": "text", "align": "center", "baseline": "middle", "fontSize": 7, "color": "#1e4620", "font": "Liberation Sans"},
      "encoding": {
        "x": {"datum": 829.6, "type": "quantitative"},
        "y": {"datum": 63802, "type": "quantitative"},
        "text": {"value": "63,861.76"}
      }
    },
    {
      "mark": {"type": "rect", "fill": "#ffffff", "stroke": "#e0e3eb", "strokeWidth": 1, "cornerRadius": 2},
      "encoding": {
        "x": {"datum": 819.5, "type": "quantitative"}, "x2": {"datum": 840.0},
        "y": {"datum": 67791, "type": "quantitative"}, "y2": {"datum": 67929}
      }
    },
    {
      "mark": {"type": "text", "align": "left", "baseline": "middle", "fontSize": 6.5, "color": "#434651", "font": "Liberation Sans"},
      "encoding": {
        "x": {"datum": 823.5, "type": "quantitative"},
        "y": {"datum": 67860, "type": "quantitative"},
        "text": {"value": "USDT"}
      }
    },
    {
      "mark": {"type": "text", "align": "left", "baseline": "middle", "fontSize": 7, "color": "#131722", "font": "Liberation Sans"},
      "encoding": {
        "x": {"datum": -1.9, "type": "quantitative"},
        "y": {"datum": 68032, "type": "quantitative"},
        "text": {"value": "James_Ryan created with TradingView.com, Aug 11, 2026 09:26 UTC+10"}
      }
    },
    {
      "mark": {"type": "text", "align": "left", "baseline": "middle", "fontSize": 6.6, "color": "#131722", "font": "Liberation Sans"},
      "encoding": {
        "x": {"datum": 0.37, "type": "quantitative"},
        "y": {"datum": 67862, "type": "quantitative"},
        "text": {"value": "Bitcoin / TetherUS · 1h · Binance"}
      }
    },
    {
      "mark": {"type": "text", "align": "left", "baseline": "middle", "fontSize": 6.6, "color": "#131722", "font": "Liberation Sans"},
      "encoding": {"x": {"datum": 53.07, "type": "quantitative"}, "y": {"datum": 67862, "type": "quantitative"}, "text": {"value": "O"}}
    },
    {
      "mark": {"type": "text", "align": "left", "baseline": "middle", "fontSize": 6.6, "color": "#f23645", "font": "Liberation Sans"},
      "encoding": {"x": {"datum": 55.77, "type": "quantitative"}, "y": {"datum": 67862, "type": "quantitative"}, "text": {"value": "64,015.99"}}
    },
    {
      "mark": {"type": "text", "align": "left", "baseline": "middle", "fontSize": 6.6, "color": "#131722", "font": "Liberation Sans"},
      "encoding": {"x": {"datum": 72.55, "type": "quantitative"}, "y": {"datum": 67862, "type": "quantitative"}, "text": {"value": "H"}}
    },
    {
      "mark": {"type": "text", "align": "left", "baseline": "middle", "fontSize": 6.6, "color": "#f23645", "font": "Liberation Sans"},
      "encoding": {"x": {"datum": 75.1, "type": "quantitative"}, "y": {"datum": 67862, "type": "quantitative"}, "text": {"value": "64,020.00"}}
    },
    {
      "mark": {"type": "text", "align": "left", "baseline": "middle", "fontSize": 6.6, "color": "#131722", "font": "Liberation Sans"},
      "encoding": {"x": {"datum": 93.24, "type": "quantitative"}, "y": {"datum": 67862, "type": "quantitative"}, "text": {"value": "L"}}
    },
    {
      "mark": {"type": "text", "align": "left", "baseline": "middle", "fontSize": 6.6, "color": "#f23645", "font": "Liberation Sans"},
      "encoding": {"x": {"datum": 95.2, "type": "quantitative"}, "y": {"datum": 67862, "type": "quantitative"}, "text": {"value": "63,948.54"}}
    },
    {
      "mark": {"type": "text", "align": "left", "baseline": "middle", "fontSize": 6.6, "color": "#131722", "font": "Liberation Sans"},
      "encoding": {"x": {"datum": 113.94, "type": "quantitative"}, "y": {"datum": 67862, "type": "quantitative"}, "text": {"value": "C"}}
    },
    {
      "mark": {"type": "text", "align": "left", "baseline": "middle", "fontSize": 6.6, "color": "#f23645", "font": "Liberation Sans"},
      "encoding": {"x": {"datum": 116.5, "type": "quantitative"}, "y": {"datum": 67862, "type": "quantitative"}, "text": {"value": "63,985.25"}}
    },
    {
      "mark": {"type": "text", "align": "left", "baseline": "middle", "fontSize": 6.6, "color": "#f23645", "font": "Liberation Sans"},
      "encoding": {"x": {"datum": 134.6, "type": "quantitative"}, "y": {"datum": 67862, "type": "quantitative"}, "text": {"value": "−30.75 (−0.05%)"}}
    },
    {
      "mark": {"type": "text", "align": "left", "baseline": "middle", "fontSize": 6.6, "color": "#131722", "font": "Liberation Sans"},
      "encoding": {"x": {"datum": 0.37, "type": "quantitative"}, "y": {"datum": 67766, "type": "quantitative"}, "text": {"value": "SMA (20, close)"}}
    },
    {
      "mark": {"type": "text", "align": "left", "baseline": "middle", "fontSize": 6.6, "color": "#2962ff", "font": "Liberation Sans"},
      "encoding": {"x": {"datum": 27.3, "type": "quantitative"}, "y": {"datum": 67766, "type": "quantitative"}, "text": {"value": "64,564.64"}}
    },
    {
      "mark": {"type": "text", "align": "left", "baseline": "middle", "fontSize": 6.6, "color": "#131722", "font": "Liberation Sans"},
      "encoding": {"x": {"datum": 0.37, "type": "quantitative"}, "y": {"datum": 67671, "type": "quantitative"}, "text": {"value": "SMA (50, close)"}}
    },
    {
      "mark": {"type": "text", "align": "left", "baseline": "middle", "fontSize": 6.6, "color": "#ff9800", "font": "Liberation Sans"},
      "encoding": {"x": {"datum": 27.3, "type": "quantitative"}, "y": {"datum": 67671, "type": "quantitative"}, "text": {"value": "64,831.08"}}
    },
    {
      "mark": {"type": "text", "align": "left", "baseline": "middle", "fontSize": 10, "fontWeight": 900, "color": "#131722", "font": "Liberation Sans"},
      "encoding": {"x": {"datum": -1.75, "type": "quantitative"}, "y": {"datum": 61004, "type": "quantitative"}, "text": {"value": "TV"}}
    },
    {
      "mark": {"type": "text", "align": "left", "baseline": "middle", "fontSize": 10, "fontWeight": "bold", "color": "#131722", "font": "Liberation Sans"},
      "encoding": {"x": {"datum": 8.33, "type": "quantitative"}, "y": {"datum": 61004, "type": "quantitative"}, "text": {"value": "TradingView"}}
    }
  ]
}
